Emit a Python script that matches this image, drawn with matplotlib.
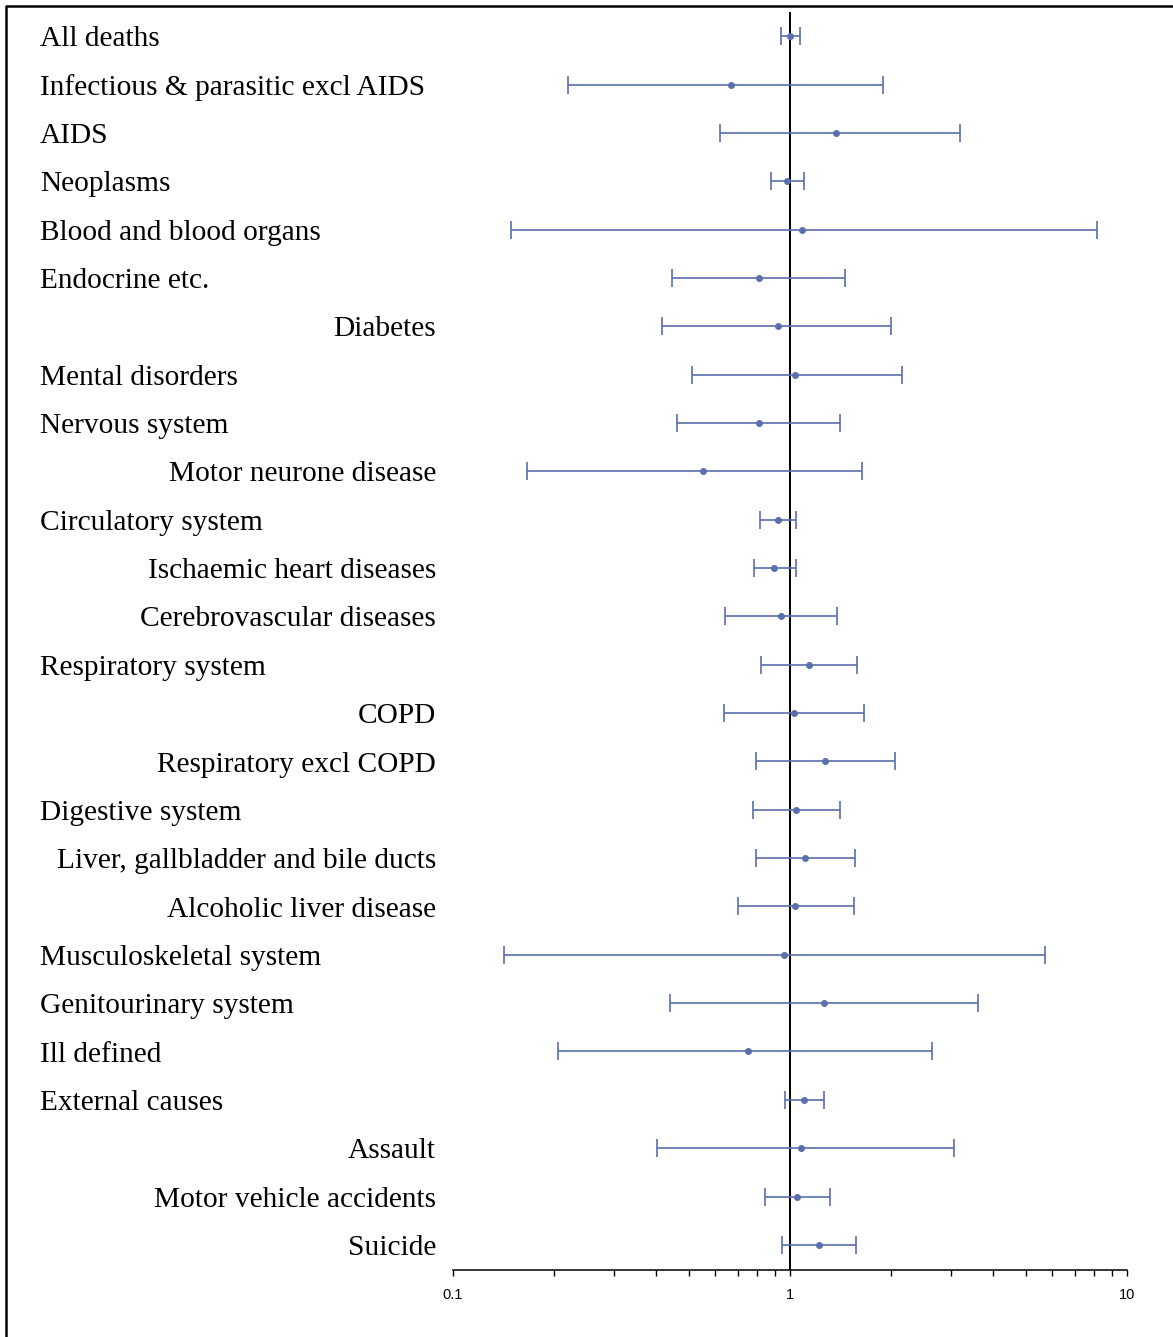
import numpy as np
import matplotlib
matplotlib.use("Agg")
import matplotlib.pyplot as plt
from matplotlib.ticker import NullFormatter, FixedLocator, LogLocator
from matplotlib.lines import Line2D
import matplotlib.transforms as mtransforms

# причины смерти (sub = подкатегория, выравнивание вправо)
causes = ["All deaths", "Infectious & parasitic excl AIDS", "AIDS", "Neoplasms",
          "Blood and blood organs", "Endocrine etc.", "Diabetes", "Mental disorders",
          "Nervous system", "Motor neurone disease", "Circulatory system",
          "Ischaemic heart diseases", "Cerebrovascular diseases", "Respiratory system",
          "COPD", "Respiratory excl COPD", "Digestive system",
          "Liver, gallbladder and bile ducts", "Alcoholic liver disease",
          "Musculoskeletal system", "Genitourinary system", "Ill defined",
          "External causes", "Assault", "Motor vehicle accidents", "Suicide"]
sub = [0, 0, 0, 0, 0, 0, 1, 0, 0, 1, 0, 1, 1, 0, 1, 1, 0, 1, 1, 0, 0, 0, 0, 1, 1, 1]

# оценки и доверительные интервалы
est = [1.00, 0.668, 1.369, 0.98, 1.085, 0.809, 0.921, 1.035, 0.809, 0.552, 0.921,
       0.897, 0.940, 1.139, 1.028, 1.270, 1.042, 1.108, 1.035, 0.960, 1.262, 0.751,
       1.10, 1.078, 1.049, 1.219]
lo = [0.940, 0.219, 0.620, 0.878, 0.149, 0.447, 0.417, 0.512, 0.462, 0.166, 0.815,
      0.782, 0.641, 0.820, 0.637, 0.793, 0.777, 0.793, 0.701, 0.142, 0.440, 0.205,
      0.966, 0.403, 0.843, 0.947]
hi = [1.071, 1.888, 3.19, 1.10, 8.15, 1.456, 1.994, 2.149, 1.407, 1.635, 1.042,
      1.042, 1.379, 1.580, 1.658, 2.050, 1.407, 1.559, 1.548, 5.71, 3.61, 2.64,
      1.262, 3.07, 1.314, 1.569]

est = np.array(est)
lo = np.array(lo)
hi = np.array(hi)
y = np.arange(len(causes))

W, H = 1173, 1337
fig = plt.figure(figsize=(W / 100, H / 100), dpi=100)
ax = fig.add_axes([453 / W, 1 - 1270 / H, (1127 - 453) / W, (1270 - 12) / H])

col = '#5b6eae'
ax.errorbar(est, y, xerr=[est - lo, hi - est], fmt='o', color=col, ms=4.0,
            elinewidth=1.2, capsize=6.5, capthick=1.2, zorder=3)
ax.axvline(1, color='black', lw=1.4, zorder=2)

ax.set_xscale('log')
ax.set_xlim(0.1, 10)
ax.set_ylim(25.52, -0.5)

ax.xaxis.set_major_locator(FixedLocator([0.1, 1, 10]))
ax.set_xticklabels(["0.1", "1", "10"], fontfamily='Liberation Sans', fontsize=10.5)
ax.xaxis.set_minor_locator(LogLocator(base=10, subs=np.arange(2, 10)))
ax.xaxis.set_minor_formatter(NullFormatter())
ax.tick_params(axis='x', which='both', direction='out', length=4, width=1, pad=9)
ax.set_yticks([])
for s in ['left', 'top', 'right']:
    ax.spines[s].set_visible(False)
ax.spines['bottom'].set_linewidth(1.1)

# подписи строк
trans = mtransforms.blended_transform_factory(fig.transFigure, ax.transData)
for i, name in enumerate(causes):
    if sub[i]:
        ax.text(436 / W, i + 0.21, name, transform=trans, ha='right', va='baseline',
                fontfamily='Liberation Serif', fontsize=21.2)
    else:
        ax.text(40 / W, i + 0.21, name, transform=trans, ha='left', va='baseline',
                fontfamily='Liberation Serif', fontsize=21.2)

# рамка слева и сверху
fig.add_artist(Line2D([5.5 / W, 5.5 / W, 1.0], [0.0, 1 - 5.5 / H, 1 - 5.5 / H],
                      transform=fig.transFigure, color='black', lw=1.8))

fig.savefig('out.png', dpi=100)
